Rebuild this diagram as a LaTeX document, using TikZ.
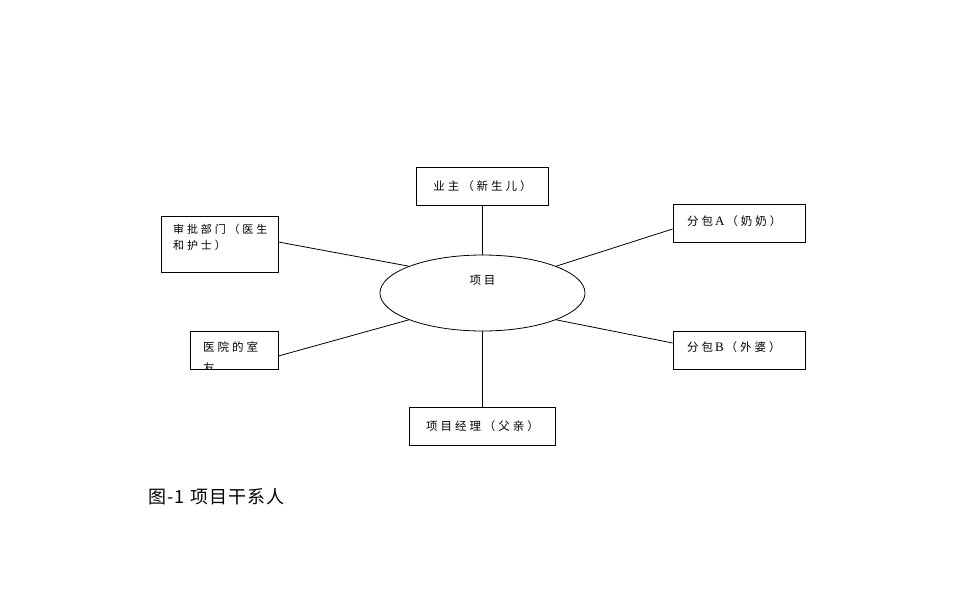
\documentclass[tikz,border=0pt]{standalone}
\usepackage{fontspec}
\setmainfont{Liberation Serif}
\newfontfamily\cjk[LetterSpace=26]{Noto Sans CJK SC}
\newfontfamily\cjkcap[LetterSpace=6]{Noto Sans CJK SC}
\usetikzlibrary{shapes.geometric}
\begin{document}
\begin{tikzpicture}[x=1pt,y=-1pt,
  box/.style={draw,line width=0.8pt,inner sep=0pt,minimum height=38pt},
  lbl/.style={font=\cjk\fontsize{11.5}{16}\selectfont,inner sep=0pt},
  latin/.style={},
  link/.style={line width=0.8pt}]
\useasboundingbox[fill=white] (0,0) rectangle (968,600);

% boxes
\node[box,lbl,minimum width=132pt] (owner) at (482.5,186) {业主（新生儿）};
\node[box,minimum width=117pt,minimum height=56pt] (appr) at (219.5,244) {};
\node[lbl,anchor=north west,align=left,font=\cjk\fontsize{11}{16}\selectfont] (apprt) at (173,224) {审批部门（医生\\和护士）};
\node[box,minimum width=88pt] (hosp) at (234,350) {};
\begin{scope}
  \clip (hosp.south west) rectangle (hosp.north east);
  \node[lbl,anchor=north west,align=left,font=\cjk\fontsize{11.5}{21}\selectfont] (hospt) at (203,342) {医院的室\\友};
\end{scope}
\node[box,minimum width=132pt] (subA) at (739,223) {};
\node[lbl,anchor=west] (subAt) at (687,221) {分包\,{\rmfamily\fontsize{13}{14}\selectfont A}\,（奶奶）};
\node[box,minimum width=132pt] (subB) at (739,350) {};
\node[lbl,anchor=west] (subBt) at (687,347) {分包\,{\rmfamily\fontsize{13}{14}\selectfont B}\,（外婆）};
\node[box,lbl,minimum width=146pt] (pm) at (482.5,426) {项目经理（父亲）};

% centre ellipse
\node[draw,ellipse,line width=0.8pt,minimum width=205pt,minimum height=76pt,inner sep=0pt] (proj) at (482.5,293) {};
\node[lbl] (projt) at (482.5,280) {项目};

% caption
\node[font=\cjkcap\fontsize{18}{20}\selectfont,anchor=west,inner sep=0pt] (cap) at (148,497) {图-1\hspace{6pt}项目干系人};

% connectors
\draw[link] (owner.south) -- (proj.north);
\draw[link] (pm.north) -- (proj.south);
\draw[link] ([yshift=2pt]appr.east) -- (proj.160);
\draw[link] ([yshift=-6pt]hosp.east) -- (proj.200);
\draw[link] ([yshift=-6pt]subA.west) -- (proj.20);
\draw[link] ([yshift=7pt]subB.west) -- (proj.340);
\end{tikzpicture}
\end{document}
